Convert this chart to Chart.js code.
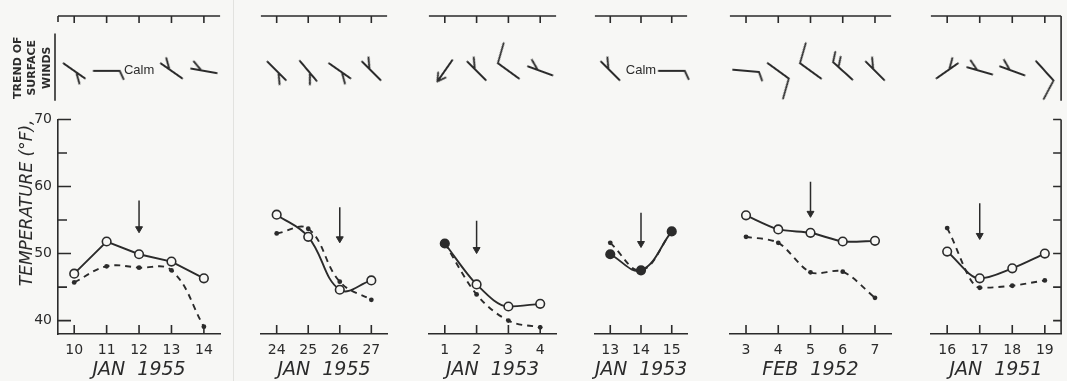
<!DOCTYPE html>
<html>
<head>
<meta charset="utf-8">
<title>Temperature and trend of surface winds</title>
<style>
  body { margin: 0; background: #f7f7f5; }
  #wrap { position: relative; width: 1067px; height: 381px; overflow: hidden; }
  .fold { position: absolute; left: 233px; top: 0; width: 1px; height: 381px; background: #e2e2df; }
  canvas { position: absolute; top: 0; }
</style>
</head>
<body>
<div id="wrap"><div class="fold"></div></div>

<script src="https://cdn.jsdelivr.net/npm/chart.js"></script>
<script>
  // ---- data ----
  const days1 = ['10', '11', '12', '13', '14'];
  const solid1 = [47.0, 51.8, 49.9, 48.8, 46.3];
  const dashed1 = [45.7, 48.1, 47.9, 47.5, 39.1];
  const windDir1 = [35, 0, null, 215, 190];
  const windKind1 = ['Y+', 'h+', 'calm', 'Y+', 'Y+'];

  const days2 = ['24', '25', '26', '27'];
  const solid2 = [55.8, 52.5, 44.6, 46.0];
  const dashed2 = [53.0, 53.7, 45.8, 43.1];
  const windDir2 = [45, 50, 35, 225];
  const windKind2 = ['Y+', 'Y+', 'Y+', 'Y+'];

  const days3 = ['1', '2', '3', '4'];
  const solid3 = [51.5, 45.4, 42.1, 42.5];
  const dashed3 = [51.5, 43.9, 40.0, 39.0];
  const windDir3 = [125, 225, 216, 200];
  const windKind3 = ['a', 'Y+', 'V+', 'Y+'];

  const days4 = ['13', '14', '15'];
  const solid4 = [49.9, 47.5, 53.3];
  const dashed4 = [51.6, 47.5, 53.3];
  const windDir4 = [225, null, 0];
  const windKind4 = ['Y+', 'calm', 'h+'];

  const days5 = ['3', '4', '5', '6', '7'];
  const solid5 = [55.7, 53.6, 53.1, 51.8, 51.9];
  const dashed5 = [52.5, 51.6, 47.2, 47.3, 43.4];
  const windDir5 = [5, 36, 216, 222, 225];
  const windKind5 = ['h+', 'V+', 'V+', 'W+', 'Y+'];

  const days6 = ['16', '17', '18', '19'];
  const solid6 = [50.3, 46.3, 47.8, 50.0];
  const dashed6 = [53.8, 44.9, 45.2, 46.0];
  const windDir6 = [325, 196, 200, 48];
  const windKind6 = ['Y-', 'Y+', 'Y+', 'V+'];

  const months = ['JAN  1955', 'JAN  1955', 'JAN  1953', 'JAN  1953', 'FEB  1952', 'JAN  1951'];
  const arrowDay = ['12', '26', '2', '14', '5', '17'];
  const arrowTop = [57.9, 56.9, 54.9, 56.1, 60.7, 57.5];
  const arrowTip = [53.7, 52.2, 50.6, 51.5, 56.0, 52.7];
  const yTicks = [40, 45, 50, 55, 60, 65, 70];

  // ---- look ----
  const INK = '#2b2b2b';
  const BG = '#f7f7f5';
  const windRow = 0.47;
  Chart.defaults.font.family = 'DejaVu Sans';
  Chart.defaults.color = INK;

  const panels = [
    { days: days1, solid: solid1, dashed: dashed1, dir: windDir1, kind: windKind1, left: 58, width: 165, axis: 58, tension: [0, 0.4], mono: false, filled: [] },
    { days: days2, solid: solid2, dashed: dashed2, dir: windDir2, kind: windKind2, left: 257, width: 133, tension: [0.4, 0.4], mono: false, filled: [] },
    { days: days3, solid: solid3, dashed: dashed3, dir: windDir3, kind: windKind3, left: 425, width: 134, tension: [0.4, 0.4], mono: true, filled: [0] },
    { days: days4, solid: solid4, dashed: dashed4, dir: windDir4, kind: windKind4, left: 591, width: 99, tension: [0.4, 0.4], mono: false, filled: [0, 1, 2] },
    { days: days5, solid: solid5, dashed: dashed5, dir: windDir5, kind: windKind5, left: 726, width: 168, tension: [0.25, 0.3], mono: false, filled: [] },
    { days: days6, solid: solid6, dashed: dashed6, dir: windDir6, kind: windKind6, left: 927, width: 137, right: true, tension: [0.4, 0.4], mono: true, filled: [] }
  ];

  // wind barb glyphs, drawn pointing right, rotated by the chart
  const SHAFT = 26;
  function barbImage(kind) {
    const size = 72;
    const c = document.createElement('canvas');
    c.width = c.height = size;
    const g = c.getContext('2d');
    g.translate(size / 2, size / 2);
    g.strokeStyle = INK;
    g.lineWidth = 1.8;
    g.lineCap = 'round';
    const side = kind.endsWith('-') ? -1 : 1;
    const head = SHAFT / 2;
    const seg = (x0, ang, len) => {
      const r = ang * Math.PI / 180;
      g.moveTo(x0, 0);
      g.lineTo(x0 + len * Math.cos(r), len * Math.sin(r));
    };
    g.beginPath();
    g.moveTo(-head, 0);
    g.lineTo(head, 0);
    if (kind[0] === 'Y') seg(head - 0.4 * SHAFT, 40 * side, 0.45 * SHAFT);
    if (kind[0] === 'h') seg(head, 65 * side, 0.35 * SHAFT);
    if (kind[0] === 'V') seg(head, 70 * side, 0.8 * SHAFT);
    if (kind[0] === 'W') { seg(head, 60 * side, 0.4 * SHAFT); seg(head - 0.28 * SHAFT, 60 * side, 0.4 * SHAFT); }
    if (kind[0] === 'a') { seg(head, 150, 0.35 * SHAFT); seg(head, -150, 0.35 * SHAFT); }
    g.stroke();
    return c;
  }
  const barbs = {};
  ['Y+', 'Y-', 'h+', 'V+', 'W+', 'a'].forEach(k => { barbs[k] = barbImage(k); });

  // inward ticks, top wind axis, side frames, "Calm"
  const frame = {
    id: 'frame',
    afterDraw(chart, args, o) {
      const ctx = chart.ctx;
      const x = chart.scales.x, y = chart.scales.y, w = chart.scales.w;
      const top = w.getPixelForValue(1);
      const base = y.getPixelForValue(y.min);
      ctx.save();
      ctx.strokeStyle = INK;
      ctx.lineWidth = 1.6;
      ctx.beginPath();
      ctx.moveTo(x.left, top);
      ctx.lineTo(x.right, top);
      x.ticks.forEach((t, k) => {
        const px = x.getPixelForTick(k);
        ctx.moveTo(px, top); ctx.lineTo(px, top + 7);
        ctx.moveTo(px, base); ctx.lineTo(px, base - 9);
      });
      if (o.left) {
        ctx.moveTo(x.left, top); ctx.lineTo(x.left, top + 6);
        ctx.moveTo(x.left - 3, w.getPixelForValue(0.83)); ctx.lineTo(x.left - 3, w.getPixelForValue(0.18));
        yTicks.forEach(v => {
          const py = y.getPixelForValue(v);
          ctx.moveTo(x.left, py); ctx.lineTo(x.left + (v % 10 ? 9 : 13), py);
        });
      }
      if (o.right) {
        ctx.moveTo(x.right, top); ctx.lineTo(x.right, w.getPixelForValue(0.18));
        ctx.moveTo(x.right, y.getPixelForValue(y.max)); ctx.lineTo(x.right, base);
        yTicks.forEach(v => {
          const py = y.getPixelForValue(v);
          ctx.moveTo(x.right, py); ctx.lineTo(x.right - 8, py);
        });
      }
      ctx.stroke();
      ctx.fillStyle = INK;
      ctx.font = '13px "Liberation Sans"';
      ctx.textAlign = 'center';
      ctx.textBaseline = 'middle';
      o.kinds.forEach((k, i) => {
        if (k === 'calm') ctx.fillText('Calm', x.getPixelForValue(i), w.getPixelForValue(windRow));
      });
      ctx.restore();
    }
  };

  const wrap = document.getElementById('wrap');

  panels.forEach((p, i) => {
    const padL = p.axis ? 0 : 2;
    const lead = p.axis || padL;
    const cv = document.createElement('canvas');
    cv.width = p.width + lead + 3;
    cv.height = 381;
    cv.style.left = (p.left - lead) + 'px';
    wrap.appendChild(cv);

    const yScale = {
      type: 'linear', min: 38, max: 70,
      stack: 'col', stackWeight: 214.5,
      display: i === 0,
      grid: { display: false, drawTicks: false },
      border: { display: true, color: INK, width: 1.6 },
      afterBuildTicks: s => { s.ticks = yTicks.map(v => ({ value: v })); },
      ticks: {
        padding: 6, color: INK,
        font: { size: 14 },
        callback: v => (v % 10 === 0 ? v : '')
      },
      title: {
        display: true, text: 'TEMPERATURE (°F),', align: 'end', color: INK,
        font: { size: 17, style: 'italic' },
        padding: { top: 17, bottom: 0 }
      }
    };
    const wScale = {
      type: 'linear', min: 0, max: 1,
      stack: 'col', stackWeight: 103.5,
      display: i === 0,
      grid: { display: false },
      border: { display: false },
      ticks: { display: false },
      title: {
        display: true, text: ['TREND OF', 'SURFACE', 'WINDS'], color: INK,
        font: { size: 11, weight: 'bold', lineHeight: 1.3 },
        padding: { top: 11, bottom: 0 }
      }
    };
    if (i === 0) {
      yScale.afterFit = s => { s.width = p.axis; };
      wScale.afterFit = s => { s.width = p.axis; };
    }

    const solidFill = p.days.map((d, k) => (p.filled.includes(k) ? INK : BG));
    const interp = p.mono ? 'monotone' : 'default';

    new Chart(cv, {
      type: 'line',
      data: {
        labels: p.days,
        datasets: [
          {
            data: p.solid, yAxisID: 'y',
            borderColor: INK, borderWidth: 1.9, tension: p.tension[0], cubicInterpolationMode: interp,
            pointStyle: 'circle', pointRadius: 4.3,
            pointBackgroundColor: solidFill, pointBorderColor: INK, pointBorderWidth: 1.6
          },
          {
            data: p.dashed, yAxisID: 'y',
            borderColor: INK, borderWidth: 1.9, borderDash: [6, 5], tension: p.tension[1], cubicInterpolationMode: interp,
            pointStyle: 'circle', pointRadius: 2.4,
            pointBackgroundColor: INK, pointBorderColor: INK, pointBorderWidth: 0
          },
          {
            data: [{ x: arrowDay[i], y: arrowTop[i] }, { x: arrowDay[i], y: arrowTip[i] }],
            yAxisID: 'y',
            borderColor: INK, borderWidth: 1.5,
            pointStyle: 'triangle', pointRotation: 180,
            pointRadius: [0, 4], pointBackgroundColor: INK, pointBorderColor: INK, pointBorderWidth: 1
          },
          {
            data: p.dir.map(d => (d === null ? null : windRow)),
            yAxisID: 'w', showLine: false,
            pointStyle: p.kind.map(k => barbs[k] || false),
            pointRotation: p.dir.map(d => d || 0),
            pointRadius: 3
          }
        ]
      },
      options: {
        responsive: false,
        animation: false,
        events: [],
        layout: { padding: { top: 16, bottom: 0, left: padL, right: 3 } },
        plugins: {
          legend: { display: false },
          tooltip: { enabled: false },
          frame: { left: i === 0, right: !!p.right, kinds: p.kind }
        },
        scales: {
          x: {
            type: 'category', offset: true,
            grid: { display: false, drawTicks: false },
            border: { display: true, color: INK, width: 1.6 },
            ticks: { color: INK, font: { size: 14 }, padding: 8, maxRotation: 0, autoSkip: false },
            title: {
              display: true, text: months[i], color: INK,
              font: { size: 19, style: 'italic' },
              padding: { top: 0, bottom: 0 }
            },
            afterFit: s => { s.height = 47; }
          },
          y: yScale,
          w: wScale
        }
      },
      plugins: [frame]
    });
  });
</script>
</body>
</html>
